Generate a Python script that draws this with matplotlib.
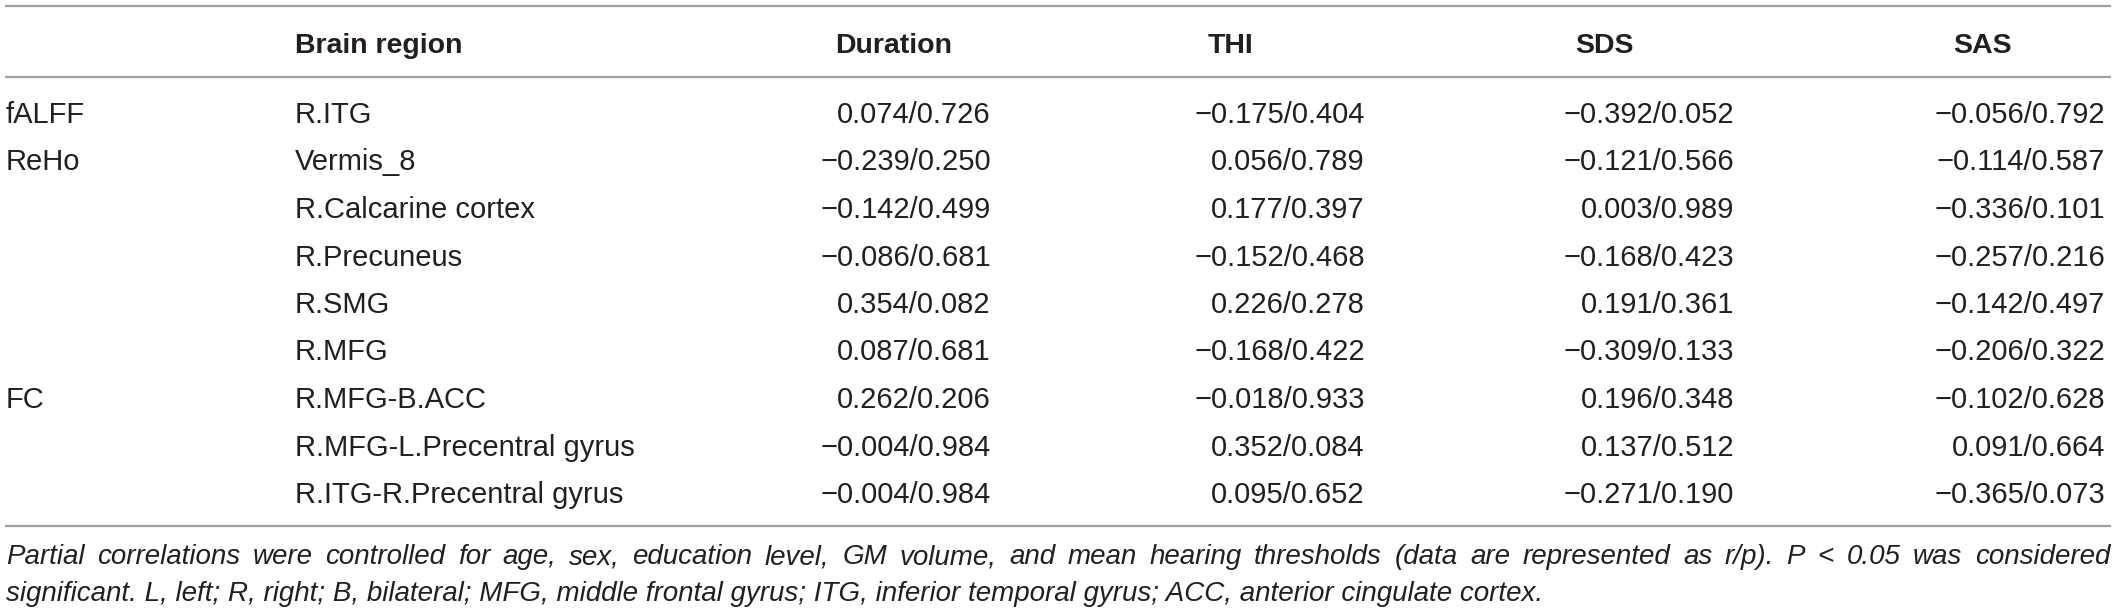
import matplotlib
matplotlib.use('Agg')
import matplotlib.pyplot as plt

plt.rcParams['font.family'] = ['Liberation Sans', 'DejaVu Sans']

# table content
headers = ['Brain region', 'Duration', 'THI', 'SDS', 'SAS']
groups = ['fALFF', 'ReHo', '', '', '', '', 'FC', '', '']
regions = ['R.ITG', 'Vermis_8', 'R.Calcarine cortex', 'R.Precuneus', 'R.SMG', 'R.MFG',
           'R.MFG-B.ACC', 'R.MFG-L.Precentral gyrus', 'R.ITG-R.Precentral gyrus']
duration = ['0.074/0.726', '\u22120.239/0.250', '\u22120.142/0.499', '\u22120.086/0.681', '0.354/0.082',
            '0.087/0.681', '0.262/0.206', '\u22120.004/0.984', '\u22120.004/0.984']
thi = ['\u22120.175/0.404', '0.056/0.789', '0.177/0.397', '\u22120.152/0.468', '0.226/0.278',
       '\u22120.168/0.422', '\u22120.018/0.933', '0.352/0.084', '0.095/0.652']
sds = ['\u22120.392/0.052', '\u22120.121/0.566', '0.003/0.989', '\u22120.168/0.423', '0.191/0.361',
       '\u22120.309/0.133', '0.196/0.348', '0.137/0.512', '\u22120.271/0.190']
sas = ['\u22120.056/0.792', '\u22120.114/0.587', '\u22120.336/0.101', '\u22120.257/0.216', '\u22120.142/0.497',
       '\u22120.206/0.322', '\u22120.102/0.628', '0.091/0.664', '\u22120.365/0.073']
caption_1 = ('Partial correlations were controlled for age, sex, education level, GM volume, and mean '
             'hearing thresholds (data are represented as r/p). P < 0.05 was considered')
caption_2 = ('significant. L, left; R, right; B, bilateral; MFG, middle frontal gyrus; ITG, inferior '
             'temporal gyrus; ACC, anterior cingulate cortex.')

W, H = 2118, 612
fig = plt.figure(figsize=(W / 100, H / 100), dpi=100)
ax = fig.add_axes([0, 0, 1, 1])
ax.set_xlim(0, W)
ax.set_ylim(H, 0)
ax.axis('off')

ink = '#231f20'
rule = '#a0a0a0'
fs = 21

# horizontal rules
for y in [6, 77, 526]:
    ax.plot([5, 2111], [y, y], color=rule, lw=1.6, solid_capstyle='butt')

# header
head_x = [295, 835, 1208, 1575, 1953]
for x, h in zip(head_x, headers):
    ax.text(x, 53, h, fontsize=fs - 0.5, fontweight='bold', color=ink, ha='left', va='baseline')

# body
cols = [duration, thi, sds, sas]
col_right = [991, 1365, 1734, 2105]
for i in range(len(regions)):
    y = 123 + i * 47.5
    if groups[i]:
        ax.text(6, y, groups[i], fontsize=fs, color=ink, ha='left', va='baseline')
    ax.text(295, y, regions[i], fontsize=fs, color=ink, ha='left', va='baseline')
    for xr, col in zip(col_right, cols):
        ax.text(xr, y, col[i], fontsize=fs, color=ink, ha='right', va='baseline')

# caption, first line justified to the table width
cap_fs = 20
fig.canvas.draw()
renderer = fig.canvas.get_renderer()
words = caption_1.split(' ')
arts = []
for w in words:
    t = ax.text(0, 564, w, fontsize=cap_fs, style='italic', color=ink, ha='left', va='baseline')
    arts.append(t)
widths = [a.get_window_extent(renderer).width for a in arts]
x0, x1 = 6, 2110
gap = (x1 - x0 - sum(widths)) / (len(words) - 1)
x = x0
for a, wd in zip(arts, widths):
    a.set_x(x)
    x += wd + gap

ax.text(6, 601, caption_2, fontsize=cap_fs, style='italic', color=ink, ha='left', va='baseline')

fig.savefig('out.png', dpi=100, facecolor='white')
